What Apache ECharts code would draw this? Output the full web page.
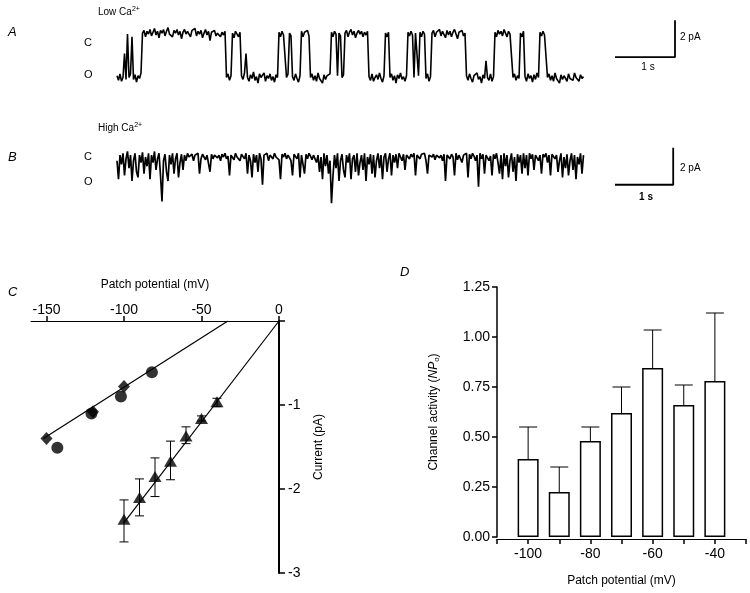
<!DOCTYPE html>
<html><head><meta charset="utf-8">
<script src="https://cdn.jsdelivr.net/npm/echarts/dist/echarts.min.js"></script>
<style>html,body{margin:0;padding:0;background:#fff}#c{width:750px;height:593px}</style>
</head><body><div id="c"></div><script>
// ---- Trace data (pA), sampled every 0.025 s ----
const sampleInterval = 0.025;
const traceLowCa = [
-2.2,-2.45,-2.1,-2.5,-2.3,-1.0,-2.4,0.05,-2.3,-2.1,-0.1,
-2.4,-2.15,-2.55,-2.2,-2.35,-2.05,
0.1,0.25,-0.1,0.2,0.05,0.3,-0.05,0.15,0.35,0.0,
0.2,-0.15,0.25,0.1,0.3,-0.05,0.2,0.4,0.05,0.15,
-0.1,0.25,0.1,0.3,0.0,0.2,-0.2,0.15,0.3,0.05,
0.2,0.1,-0.1,0.25,0.15,0.35,-0.05,0.2,0.05,0.25,
-0.15,0.1,0.3,0.0,0.2,-0.3,0.15,0.05,0.25,-0.05,
0.1,0.2,-0.1,0.15,0.0,0.2,
-2.3,-2.1,-2.45,-2.2,
0.1,-0.15,0.2,0.05,-0.1,0.15,
-2.2,-2.4,-2.05,-1.0,-2.3,-2.5,-2.15,-2.35,-2.0,-2.45,-2.25,-2.6,-2.1,-2.3,-2.4,-2.05,-2.5,-2.2,-2.35,-2.1,-2.45,-2.25,-2.55,-2.15,-2.3,
0.15,-0.1,0.2,0.0,0.1,
-2.3,-2.1,
0.1,-0.05,
-2.25,-2.45,-2.1,-2.35,-2.55,-2.2,
0.2,-0.1,0.15,0.05,0.25,-0.05,
-2.3,-2.1,-2.45,-2.2,-2.5,-2.05,-2.35,-2.25,-2.6,-2.15,-2.4,-2.2,-2.3,-2.1,
0.15,-0.1,0.2,0.05,
-2.2,
0.1,-0.05,
-2.3,-2.15,
0.1,0.25,-0.1,0.15,0.3,0.0,0.2,-0.15,0.1,0.25,0.05,0.2,-0.1,0.15,0.0,0.2,
-2.25,-2.45,-2.1,-2.5,-2.3,-2.15,-2.4,-2.05,-2.35,-2.55,-2.2,
0.1,-0.1,0.15,
-2.3,-2.1,-2.45,-2.2,-2.6,-2.15,-2.35,-2.05,-2.4,-2.25,-2.5,-2.2,
0.15,-0.05,0.2,0.0,
-2.3,
0.1,0.0,
-2.2,
0.15,-0.1,0.2,0.05,
-2.35,-2.1,-2.5,-2.25,
0.1,0.25,-0.1,0.15,0.05,0.3,-0.05,0.2,0.1,-0.15,0.25,0.0,0.2,-0.1,0.15,0.3,0.05,-0.2,0.15,0.1,0.25,-0.05,0.1,
-2.2,-2.45,-2.1,-2.35,-2.55,-2.2,-2.3,-2.05,-2.4,-2.25,-2.6,-2.15,-2.35,-1.4,-2.3,-2.45,-2.1,-2.5,-2.25,
0.15,-0.1,0.25,0.05,0.2,-0.05,0.3,0.1,-0.1,0.2,0.05,0.15,
-2.3,-2.1,-2.45,-2.2,-2.35,
0.1,-0.1,0.2,
-2.25,-2.5,-2.1,-2.35,-2.2,-2.55,-2.15,-2.4,-2.05,-2.3,
0.15,-0.05,0.2,0.0,0.1,
-2.3,-2.1,-2.45,-2.2,-2.5,-2.05,-2.35,-2.25,-2.6,-2.15,-2.4,-2.2,-2.3,-2.5,-2.1,-2.35,-2.25,-2.45,-2.05,-2.3,-2.2,-2.5,-2.15,-2.35,-2.25
];
const traceHighCa = [
-0.2,-1.2,0.1,-0.4,0.2,-1.0,-0.1,0.3,-0.6,0.1,-1.3,-0.2,0.2,-0.8,-1.1,0.1,-0.3,0.25,-0.9,0.0,
-0.5,0.2,-1.2,0.1,-0.3,0.3,-0.7,-0.1,0.2,-1.0,-2.4,-0.2,0.15,-0.8,-1.3,0.1,-0.4,0.2,-0.9,-0.1,
0.2,-1.1,-0.3,0.15,-0.7,0.1,-0.2,0.2,0.0,-0.1,0.15,-0.2,0.1,0.0,0.2,-0.9,-0.1,0.15,0.05,-0.15,
0.1,0.0,-0.8,0.15,-0.1,0.1,0.2,-0.05,0.1,-0.2,0.15,0.0,0.2,-0.1,0.05,-1.0,0.1,0.15,-0.15,0.2,
0.0,0.1,-0.2,0.15,0.05,-0.1,0.2,-0.9,0.1,-0.2,-1.1,0.15,-0.3,0.1,-0.8,0.2,-0.1,-1.5,0.1,0.0,
0.2,-0.2,0.1,0.15,-0.1,0.2,0.0,0.1,-0.15,-1.2,0.15,0.0,0.2,-0.1,0.1,0.05,-0.2,-1.0,0.15,0.05,
-0.1,0.2,-1.1,0.1,0.0,-0.9,0.15,-0.1,0.2,0.05,-0.15,0.1,0.2,-0.3,0.1,-0.8,0.0,-1.2,0.2,-0.5,
0.1,-0.9,-0.2,-2.5,-1.0,0.1,-0.6,0.2,-1.3,-0.2,0.15,-0.7,-1.1,0.1,-0.3,0.2,-1.2,-0.1,0.1,-0.8,
0.2,-1.0,-0.3,0.1,-0.7,0.2,-1.3,0.0,-0.4,0.15,-0.9,0.1,-1.1,-0.2,0.2,-0.6,0.1,-1.2,0.0,0.2,
-0.8,-0.1,0.2,-1.0,0.1,-0.3,0.15,-0.6,0.2,0.0,-0.2,0.15,-0.7,0.1,0.2,-0.1,0.15,0.0,0.2,-1.0,
0.1,0.2,-0.1,0.15,0.05,0.2,-0.2,-0.9,0.1,0.2,0.0,0.15,-0.15,0.1,0.2,-0.05,0.1,-0.2,0.15,-1.3,
0.1,0.2,-0.1,0.15,0.0,-1.0,0.2,-0.15,0.1,0.2,-0.3,0.1,0.0,0.2,-1.1,0.15,-0.1,0.2,0.05,-0.2,
0.1,-1.6,0.2,-0.1,0.15,-0.9,0.1,0.2,-0.2,0.05,-1.0,0.15,-0.1,0.2,-0.3,-0.9,0.1,-1.2,0.2,-0.5,
0.1,-1.1,-0.2,0.2,-0.8,0.0,-1.3,0.15,-0.3,0.1,-0.9,0.2,-0.6,0.1,-1.0,0.2,-0.1,0.15,-0.7,0.1,
0.2,-0.2,0.1,-0.9,0.15,0.0,0.2,-0.3,0.1,-1.0,0.15,0.2,-0.1,0.1,-0.8,-0.2,0.2,-1.1,0.0,-0.6,
0.15,-1.0,-0.2,0.2,-0.7,0.1,-1.2,0.0,-0.4,0.2,-0.9,0.1
];
// scale bars: [time s, current pA]
const scaleBarA = [[8.3,-1.2],[9.3,-1.2],[9.3,0.8]];
const scaleBarB = [[8.3,-1.5],[9.27,-1.5],[9.27,0.5]];

// ---- Panel C: I-V ----
const ivTicks = [-150,-100,-50,0];
const circles = [[-143,-1.51],[-121,-1.10],[-102,-0.90],[-82,-0.61]];
const diamonds = [[-150,-1.40],[-120,-1.08],[-100,-0.78]];
const fitLow = [[-152,-1.40],[-33,0]];
const triangles = [[-100,-2.36],[-90,-2.10],[-80,-1.85],[-70,-1.67],[-60,-1.37],[-50,-1.16],[-40,-0.96]];
const triangleErr = [[-100,-2.13,-2.63],[-90,-1.88,-2.32],[-80,-1.63,-2.09],[-70,-1.43,-1.89],[-60,-1.26,-1.46],[-50,-1.13,-1.19],[-40,-0.92,-1.02]];
const fitHigh = [[-100,-2.40],[0,0]];

// ---- Panel D: channel activity ----
const potentials = [-100,-90,-80,-70,-60,-50,-40];
const npo = [0.39,0.225,0.48,0.62,0.845,0.66,0.78];
const npoErrTop = [0.55,0.35,0.55,0.75,1.035,0.76,1.12];

const F = "'Liberation Sans', Arial, sans-serif";
const chart = echarts.init(document.getElementById('c'), null, {renderer:'canvas'});

function errRender(capHalf, bothCaps){
  return function(params, api){
    const x = api.value(0), a = api.value(1), b = api.value(2);
    const p1 = api.coord([x,a]), p2 = api.coord([x,b]);
    const st = {stroke:'#000', lineWidth:1};
    const ch = [
      {type:'line', shape:{x1:p1[0],y1:p1[1],x2:p2[0],y2:p2[1]}, style:st},
      {type:'line', shape:{x1:p2[0]-capHalf,y1:p2[1],x2:p2[0]+capHalf,y2:p2[1]}, style:st}
    ];
    if (bothCaps) ch.push({type:'line', shape:{x1:p1[0]-capHalf,y1:p1[1],x2:p1[0]+capHalf,y2:p1[1]}, style:st});
    return {type:'group', children:ch};
  };
}

const txt = (t, x, y, size, extra) => Object.assign({type:'text', x:x, y:y, style:Object.assign({text:t, font:size+'px '+F, fill:'#000', textVerticalAlign:'middle'}, extra||{})});

const option = {
  animation:false,
  backgroundColor:'#fff',
  textStyle:{fontFamily:F, color:'#000'},
  grid:[
    {left:117, top:16.5, width:570, height:74},
    {left:117, top:138.5, width:570, height:74},
    {left:31, top:321, width:248, height:252},
    {left:497, top:287, width:249, height:250}
  ],
  xAxis:[
    {gridIndex:0, type:'value', min:0, max:9.5, show:false},
    {gridIndex:1, type:'value', min:0, max:9.5, show:false},
    {gridIndex:2, type:'value', min:-160, max:0, position:'top',
      axisLine:{show:true, onZero:false, lineStyle:{color:'#000', width:1}},
      axisTick:{show:true, customValues:ivTicks, length:5, lineStyle:{color:'#000', width:1.5}},
      axisLabel:{customValues:ivTicks, fontSize:14, color:'#000', margin:4, fontFamily:F},
      splitLine:{show:false},
      name:'Patch potential (mV)', nameLocation:'middle', nameGap:30,
      nameTextStyle:{fontSize:12, color:'#000', fontFamily:F}},
    {gridIndex:3, type:'value', min:-110, max:-30, interval:10, offset:2,
      axisLine:{show:true, onZero:false, lineStyle:{color:'#000', width:1}},
      axisTick:{show:true, length:5, lineStyle:{color:'#000', width:1.5}},
      axisLabel:{fontSize:14, color:'#000', margin:8, fontFamily:F,
        formatter:v => (v % 20 === 0 && v >= -100 && v <= -40) ? String(v) : ''},
      splitLine:{show:false},
      name:'Patch potential (mV)', nameLocation:'middle', nameGap:36,
      nameTextStyle:{fontSize:12, color:'#000', fontFamily:F}}
  ],
  yAxis:[
    {gridIndex:0, type:'value', min:-3, max:1, show:false},
    {gridIndex:1, type:'value', min:-3, max:1, show:false},
    {gridIndex:2, type:'value', min:-3, max:0, interval:1, position:'right',
      axisLine:{show:true, onZero:false, lineStyle:{color:'#000', width:2}},
      axisTick:{show:true, length:6, lineStyle:{color:'#000', width:1.5}},
      axisLabel:{fontSize:14, color:'#000', margin:9, fontFamily:F, formatter:v => v === 0 ? '' : String(v)},
      splitLine:{show:false},
      name:'Current (pA)', nameLocation:'middle', nameRotate:90, nameGap:34,
      nameTextStyle:{fontSize:12, color:'#000', fontFamily:F}},
    {gridIndex:3, type:'value', min:0, max:1.25, interval:0.25,
      axisLine:{show:true, onZero:false, lineStyle:{color:'#000', width:1.5}},
      axisTick:{show:true, length:5, lineStyle:{color:'#000', width:1.5}},
      axisLabel:{fontSize:14, color:'#000', margin:7, fontFamily:F, formatter:v => v.toFixed(2)},
      splitLine:{show:false},
      name:'{n|Channel activity (}{i|NP}{s|o}{n|)}', nameLocation:'middle', nameRotate:90, nameGap:56,
      nameTextStyle:{fontSize:12, color:'#000', fontFamily:F,
        rich:{n:{fontSize:12, fontFamily:F}, i:{fontSize:12, fontStyle:'italic', fontFamily:F}, s:{fontSize:8, fontFamily:F, padding:[6,0,0,0]}}}}
  ],
  series:[
    {type:'line', xAxisIndex:0, yAxisIndex:0, data:traceLowCa.map((v,i)=>[i*sampleInterval, v]),
      showSymbol:false, symbol:'none', lineStyle:{color:'#000', width:1.6}},
    {type:'line', xAxisIndex:0, yAxisIndex:0, data:scaleBarA, showSymbol:false, symbol:'none',
      lineStyle:{color:'#000', width:1.8}},
    {type:'line', xAxisIndex:1, yAxisIndex:1, data:traceHighCa.map((v,i)=>[i*sampleInterval, v]),
      showSymbol:false, symbol:'none', lineStyle:{color:'#000', width:1.7}},
    {type:'line', xAxisIndex:1, yAxisIndex:1, data:scaleBarB, showSymbol:false, symbol:'none',
      lineStyle:{color:'#000', width:1.8}},
    // Panel C
    {type:'line', xAxisIndex:2, yAxisIndex:2, data:fitLow, symbol:'none', lineStyle:{color:'#000', width:1.2}},
    {type:'line', xAxisIndex:2, yAxisIndex:2, data:fitHigh, symbol:'none', lineStyle:{color:'#000', width:1.2}},
    {type:'custom', xAxisIndex:2, yAxisIndex:2, data:triangleErr, encode:{x:0, y:[1,2]},
      renderItem:errRender(4.5, true), z:3},
    {type:'scatter', xAxisIndex:2, yAxisIndex:2, data:circles, symbol:'circle', symbolSize:12,
      itemStyle:{color:'#000'}, z:4},
    {type:'scatter', xAxisIndex:2, yAxisIndex:2, data:diamonds, symbol:'diamond', symbolSize:[12,13],
      itemStyle:{color:'#000'}, z:4},
    {type:'scatter', xAxisIndex:2, yAxisIndex:2, data:triangles, symbol:'triangle', symbolSize:[13,11],
      itemStyle:{color:'#000'}, z:4},
    // Panel D
    {type:'bar', xAxisIndex:3, yAxisIndex:3, data:potentials.map((p,i)=>[p, npo[i]]), barWidth:21,
      itemStyle:{color:'#fff', borderColor:'#000', borderWidth:1.5}, z:2},
    {type:'custom', xAxisIndex:3, yAxisIndex:3, data:potentials.map((p,i)=>[p, npo[i], npoErrTop[i]]),
      encode:{x:0, y:[1,2]}, renderItem:errRender(9, false), z:3}
  ],
  graphic:[
    txt('A', 8, 32, 13, {font:'italic 13px '+F}),
    txt('B', 8, 157, 13, {font:'italic 13px '+F}),
    txt('C', 8, 292, 13, {font:'italic 13px '+F}),
    txt('D', 400, 272, 13, {font:'italic 13px '+F}),
    txt('C', 84, 43, 11), txt('O', 84, 75, 11),
    txt('C', 84, 157, 11), txt('O', 84, 182, 11),
    {type:'text', x:98, y:12, style:{text:'{a|Low Ca}{s|2+}', font:'10px '+F, fill:'#000', textVerticalAlign:'middle',
      rich:{a:{fontSize:10, fontFamily:F}, s:{fontSize:7, fontFamily:F, padding:[0,0,5,0]}}}},
    {type:'text', x:98, y:128, style:{text:'{a|High Ca}{s|2+}', font:'10px '+F, fill:'#000', textVerticalAlign:'middle',
      rich:{a:{fontSize:10, fontFamily:F}, s:{fontSize:7, fontFamily:F, padding:[0,0,5,0]}}}},
    txt('2 pA', 680, 37, 10), txt('1 s', 648, 67, 10, {textAlign:'center'}),
    txt('2 pA', 680, 168, 10), txt('1 s', 646, 197, 10, {textAlign:'center', font:'bold 10px '+F})
  ]
};
chart.setOption(option);
</script></body></html>
